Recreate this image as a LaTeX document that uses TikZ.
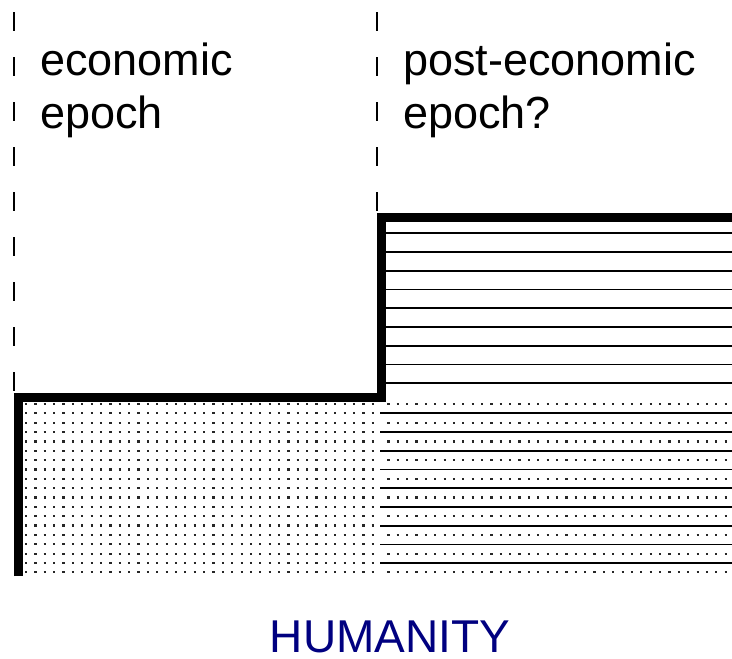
\documentclass[tikz,border=0pt]{standalone}
\usepackage{fontspec}
\setmainfont{Liberation Sans}
\definecolor{navyblue}{RGB}{0,0,128}
\begin{document}
\begin{tikzpicture}[x=1pt,y=-1pt,
  epochlabel/.style={inner sep=0pt,anchor=base west,align=left,
    font=\fontsize{45}{53}\selectfont},
  divider/.style={line width=1.8pt,dash pattern=on 19pt off 26pt},
  levelline/.style={line width=9pt,line join=miter,line cap=butt},
  hatchline/.style={line width=1.8pt},
  dotrow/.style={line width=2.2pt,black!85,dash pattern=on 2.2pt off 7.17pt}]
\useasboundingbox (0,0) rectangle (732,659);
% dividers
\coordinate (d1a) at (14,12);
\coordinate (d1b) at (14,393);
\coordinate (d2a) at (377,12);
\coordinate (d2b) at (377,213);
\draw[divider] (d1a) -- (d1b);
\draw[divider] (d2a) -- (d2b);
% dotted grid, economic epoch
\foreach \i in {0,...,18} {
  \draw[dotrow] (25,404+\i*9.35) -- (376,404+\i*9.35);
}
% post-economic lower: dots and lines
\foreach \i in {0,...,9} {
  \draw[dotrow] (387.3,404+\i*18.7) -- (732,404+\i*18.7);
}
\foreach \i in {0,...,8} {
  \draw[hatchline] (380,413.3+\i*18.75) -- (732,413.3+\i*18.75);
}
% post-economic upper lines
\foreach \i in {0,...,8} {
  \draw[hatchline] (384,233.3+\i*18.75) -- (732,233.3+\i*18.75);
}
% level line
\coordinate (l0) at (18,576);
\coordinate (l1) at (18,397);
\coordinate (l2) at (381,397);
\coordinate (l3) at (381,217);
\coordinate (l4) at (736,217);
\draw[levelline] (l0) -- (l1) -- (l2) -- (l3) -- (l4);
% labels
\node[epochlabel] (econ) at (40,128) {economic\\epoch};
\node[epochlabel] (post) at (403,128) {post-economic\\epoch?};
\node[inner sep=0pt,anchor=base,text=navyblue,font=\fontsize{46}{50}\selectfont] (hum) at (390,652) {HUMANITY};
\end{tikzpicture}
\end{document}
